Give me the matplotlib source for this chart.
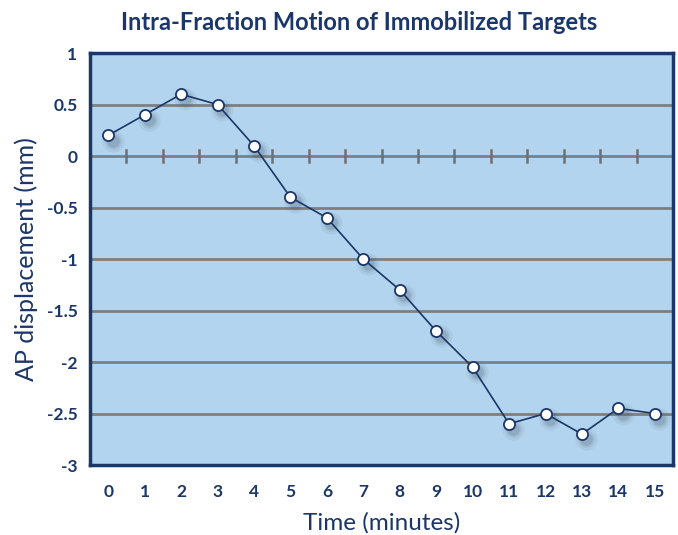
import matplotlib.pyplot as plt

minutes = list(range(16))
ap_disp = [0.2, 0.4, 0.6, 0.5, 0.1, -0.4, -0.6, -1.0, -1.3, -1.7, -2.05,
           -2.6, -2.5, -2.7, -2.45, -2.5]
y_ticks = [1, 0.5, 0, -0.5, -1, -1.5, -2, -2.5, -3]
y_labels = ['1', '0.5', '0', '-0.5', '-1', '-1.5', '-2', '-2.5', '-3']

navy = '#1b3668'
plt.rcParams['font.family'] = ['Lato', 'DejaVu Sans']

fig = plt.figure(figsize=(6.78, 5.35), dpi=100)
ax = fig.add_axes([0.1327, 0.1308, 0.86, 0.7701])
ax.set_facecolor('#b3d4ee')

# grid
for y in y_ticks:
    ax.axhline(y, color='#7f7f7f', lw=2, zorder=1)
# small ticks on the zero line between categories
for m in minutes[:-1]:
    ax.plot([m + 0.5, m + 0.5], [-0.06, 0.06], color='#6f6f6f', lw=1.8, zorder=1)

# soft shadow under markers
dx, dy = 0.12, -0.05
for a, s in [(0.08, 16), (0.12, 12), (0.18, 9)]:
    ax.scatter([m + dx for m in minutes], [v + dy for v in ap_disp], s=s**2,
               color='#4a5a6a', alpha=a, lw=0, zorder=2)

ax.plot(minutes, ap_disp, color=navy, lw=1.2, marker='o', ms=8,
        mfc='white', mec=navy, mew=1.3, zorder=3)

ax.set_xlim(-0.5, 15.5)
ax.set_ylim(-3, 1)
ax.set_xticks(minutes)
ax.set_xticklabels([str(m) for m in minutes], fontsize=12.5, fontweight='bold', color=navy)
ax.set_yticks(y_ticks)
ax.set_yticklabels(y_labels, fontsize=12.5, fontweight='bold', color=navy)
ax.tick_params(axis='x', length=0, pad=14)
ax.tick_params(axis='y', length=0, pad=9)
for sp in ax.spines.values():
    sp.set_color(navy)
    sp.set_linewidth(2.5)

ax.set_xlabel('Time (minutes)', fontsize=17.5, color=navy, labelpad=8)
ax.set_ylabel('AP displacement (mm)', fontsize=18, color=navy, labelpad=6)
fig.text(0.53, 0.958, 'Intra-Fraction Motion of Immobilized Targets', ha='center',
         va='center', fontsize=17, fontweight='bold', color=navy)

fig.savefig('out.png', dpi=100)
